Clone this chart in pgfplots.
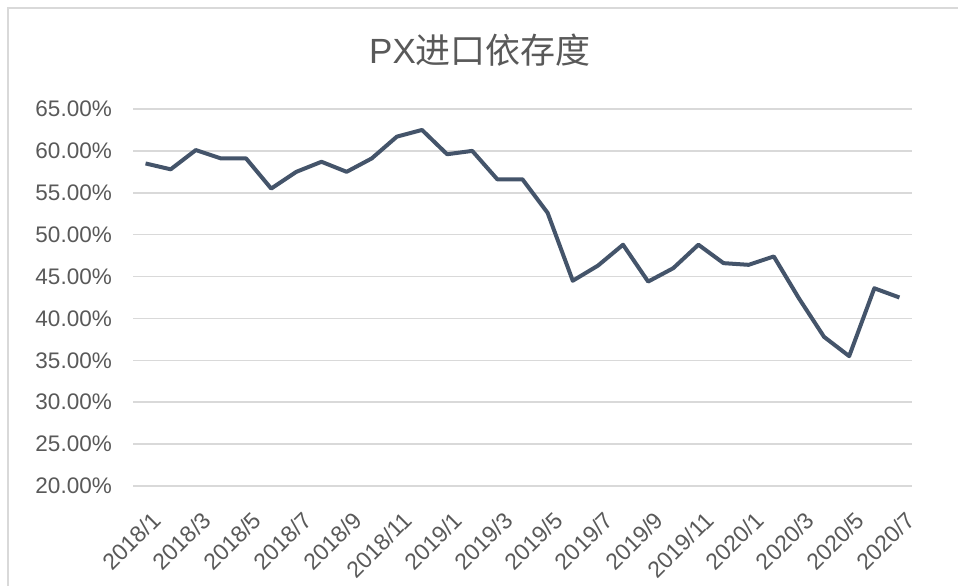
\documentclass[border=0pt]{standalone}
\usepackage{pgfplots}
\pgfplotsset{compat=1.18}
\usepackage{fontspec}
\setmainfont{Liberation Sans}
\newfontfamily\cjk{Noto Sans CJK SC}
\definecolor{linec}{HTML}{44546A}
\definecolor{gridc}{HTML}{D9D9D9}
\definecolor{txt}{HTML}{595959}
\begin{document}
\begin{tikzpicture}
\path[use as bounding box, fill=white] (0pt,0pt) rectangle (958pt,586pt);
\draw[gridc, line width=1.5pt] (8pt,0pt) -- (8pt,578pt) -- (958pt,578pt);
\node[txt, font=\fontsize{35}{40}\selectfont] at (480pt,536pt) {PX{\cjk 进口依存度}};
\begin{axis}[
  at={(133pt,100pt)}, anchor=south west,
  scale only axis, width=779pt, height=377pt,
  xmin=-0.5, xmax=30.5, ymin=20, ymax=65,
  axis line style={draw=none},
  major tick length=0pt,
  ytick={20,25,...,65},
  ymajorgrids, grid style={gridc, line width=1.5pt},
  /pgf/number format/assume math mode=true,
  yticklabel={\pgfmathprintnumber[fixed,fixed zerofill,precision=2]{\tick}\%},
  yticklabel style={txt, font=\fontsize{22.5}{24}\selectfont, inner sep=0pt, xshift=-21pt},
  xtick={0,2,...,30},
  xticklabels={2018/1,2018/3,2018/5,2018/7,2018/9,2018/11,2019/1,2019/3,2019/5,2019/7,2019/9,2019/11,2020/1,2020/3,2020/5,2020/7},
  xticklabel style={txt, font=\fontsize{23}{25}\selectfont, inner sep=0pt, xshift=5pt, yshift=-24pt, rotate=45, anchor=north east},
  clip=false,
]
\addplot[linec, line width=4pt, line join=round, mark=none] coordinates {
(0,58.5) (1,57.8) (2,60.1) (3,59.1) (4,59.1) (5,55.5) (6,57.5) (7,58.7) (8,57.5) (9,59.1)
(10,61.7) (11,62.5) (12,59.6) (13,60.0) (14,56.6) (15,56.6) (16,52.6) (17,44.5) (18,46.3) (19,48.8)
(20,44.4) (21,46.0) (22,48.8) (23,46.6) (24,46.4) (25,47.4) (26,42.4) (27,37.8) (28,35.5) (29,43.6) (30,42.5)
};
\end{axis}
\end{tikzpicture}
\end{document}
